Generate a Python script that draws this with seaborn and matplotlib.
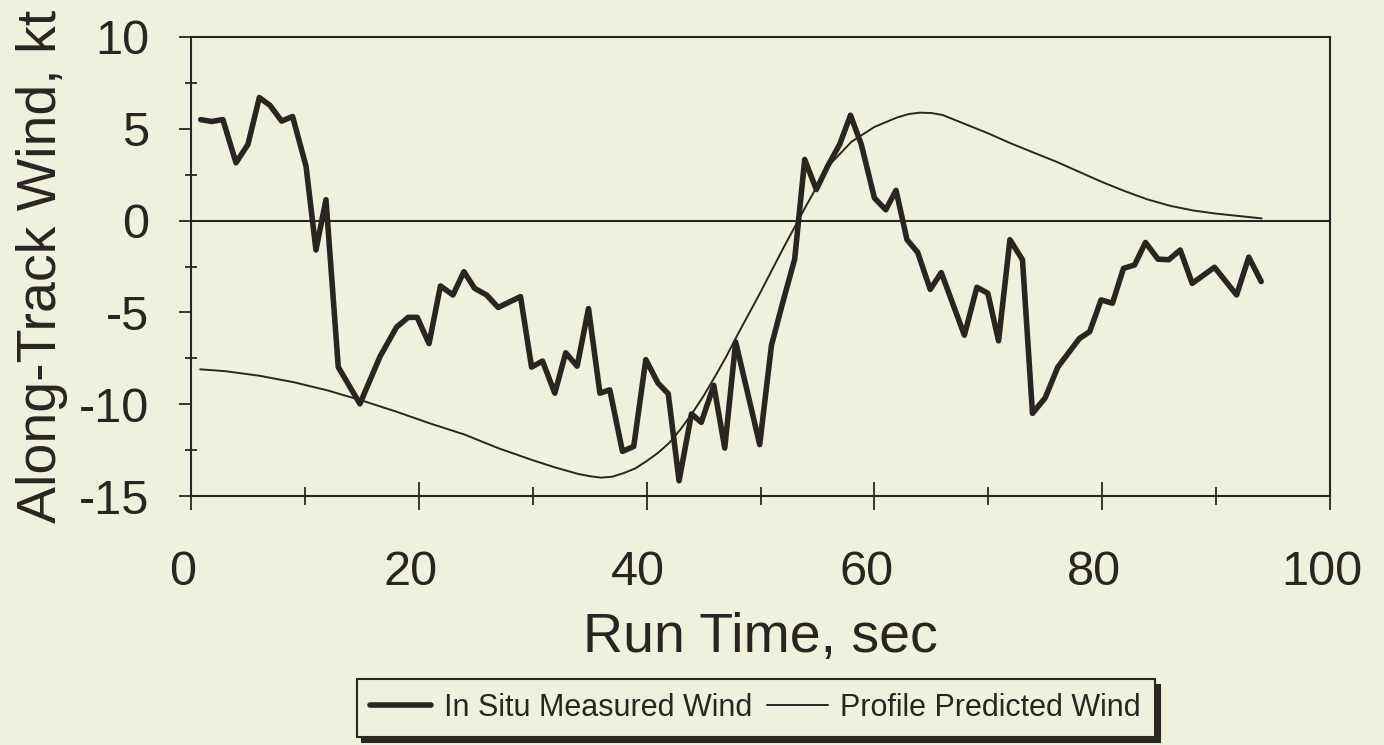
import numpy as np
import pandas as pd
import matplotlib
matplotlib.use("Agg")
import matplotlib.pyplot as plt
import matplotlib.transforms as mtransforms
from matplotlib.ticker import MultipleLocator
import seaborn as sns

# --- donnees ---
measured_t = [0.85, 1.8, 2.8, 3.95, 5.0, 6.0, 6.93, 7.96, 8.92, 10.1, 10.97, 11.85,
              12.93, 14.83, 16.6, 18.05, 19.07, 19.86, 20.9, 21.9, 23.0, 23.96, 24.9,
              25.95, 26.97, 28.93, 29.9, 30.86, 31.94, 32.9, 33.9, 34.9, 35.9, 36.77,
              37.88, 38.87, 39.93, 41.0, 41.9, 42.85, 43.94, 44.8, 45.9, 46.86, 47.82,
              49.93, 50.96, 51.98, 53.0, 53.88, 54.9, 55.9, 56.95, 57.9, 58.85, 60.0,
              61.0, 61.9, 62.86, 63.8, 64.9, 65.87, 67.9, 69.0, 69.96, 70.9, 71.9,
              73.0, 73.88, 75.0, 76.1, 78.0, 78.9, 79.9, 80.9, 81.87, 82.84, 83.8,
              84.9, 85.85, 86.85, 87.9, 89.86, 91.8, 92.87, 93.96]
measured_wind = [5.5, 5.4, 5.5, 3.15, 4.15, 6.7, 6.28, 5.42, 5.67, 2.96, -1.6, 1.14,
                 -7.98, -9.98, -7.4, -5.8, -5.27, -5.27, -6.7, -3.56, -4.05, -2.78, -3.69,
                 -4.05, -4.73, -4.14, -7.98, -7.65, -9.4, -7.2, -7.93, -4.79, -9.4, -9.22,
                 -12.57, -12.3, -7.57, -8.85, -9.43, -14.17, -10.53, -10.99, -8.97, -12.39, -6.61,
                 -12.2, -6.8, -4.4, -2.1, 3.33, 1.69, 2.97, 4.15, 5.74, 4.15, 1.23,
                 0.59, 1.65, -1.04, -1.73, -3.75, -2.83, -6.24, -3.63, -3.96, -6.55, -1.04,
                 -2.13, -10.5, -9.65, -7.98, -6.42, -6.05, -4.32, -4.5, -2.6, -2.42, -1.19,
                 -2.1, -2.13, -1.6, -3.42, -2.54, -4.05, -1.99, -3.32]

predicted_t = [0.8, 3, 6, 9, 12, 15, 18, 21, 24, 27, 30, 32, 34, 35, 36, 37, 38, 39,
               40, 41, 42, 43, 44, 45, 46, 47, 48, 50, 52, 54, 56, 58, 60, 62, 63,
               64, 65, 66, 68, 70, 72, 74, 76, 78, 80, 82, 84, 86, 88, 90, 92, 94]
predicted_wind = [-8.1, -8.2, -8.45, -8.8, -9.25, -9.8, -10.4, -11.05, -11.65, -12.4,
                  -13.05, -13.45, -13.8, -13.92, -14.0, -13.95, -13.75, -13.5, -13.1,
                  -12.65, -12.1, -11.35, -10.5, -9.55, -8.5, -7.4, -6.2, -3.9,
                  -1.5, 0.8, 3.0, 4.3, 5.1, 5.62, 5.8, 5.88, 5.86, 5.75, 5.25, 4.75,
                  4.2, 3.7, 3.2, 2.65, 2.1, 1.6, 1.15, 0.8, 0.55, 0.38, 0.25, 0.12]

df_meas = pd.DataFrame({"Run Time": measured_t, "Wind": measured_wind})
df_pred = pd.DataFrame({"Run Time": predicted_t, "Wind": predicted_wind})

BG = "#eef2dd"
INK = "#2a2521"

sns.set_style("ticks")
plt.rcParams["font.family"] = ["Liberation Sans", "DejaVu Sans"]
plt.rcParams["axes.unicode_minus"] = False

fig = plt.figure(figsize=(13.84, 7.45), dpi=100, facecolor=BG)
ax = fig.add_axes([191 / 1384, 1 - 496 / 745, (1330 - 191) / 1384, (496 - 37) / 745])
ax.set_facecolor(BG)

sns.lineplot(data=df_meas, x="Run Time", y="Wind", ax=ax, color=INK, linewidth=4.0,
             label="In Situ Measured Wind", sort=False)
sns.lineplot(data=df_pred, x="Run Time", y="Wind", ax=ax, color=INK, linewidth=1.4,
             label="Profile Predicted Wind", sort=False)
ax.axhline(0, color=INK, linewidth=1.5, zorder=1)

ax.set_xlim(0, 100)
ax.set_ylim(-15, 10)
ax.xaxis.set_major_locator(MultipleLocator(20))
ax.xaxis.set_minor_locator(MultipleLocator(10))
ax.yaxis.set_major_locator(MultipleLocator(5))
ax.yaxis.set_minor_locator(MultipleLocator(2.5))

for s in ax.spines.values():
    s.set_color(INK)
    s.set_linewidth(1.5)
    s.set_visible(True)

ax.tick_params(axis="y", which="major", direction="out", length=9, width=1.3,
               color=INK, labelsize=35, labelcolor=INK, pad=21)
ax.tick_params(axis="y", which="minor", direction="inout", length=9, width=1.3, color=INK)
ax.tick_params(axis="x", which="major", direction="inout", length=20, width=1.3,
               color=INK, labelsize=35, labelcolor=INK, pad=29)
ax.tick_params(axis="x", which="minor", direction="inout", length=13, width=1.3, color=INK)

# les chiffres de l'axe x sont un peu decales vers la gauche
offset = mtransforms.ScaledTranslation(-6 / 72, 0, fig.dpi_scale_trans)
for lab in ax.get_xticklabels():
    lab.set_transform(lab.get_transform() + offset)

ax.set_xlabel("Run Time, sec", fontsize=40, color=INK, labelpad=12)
ax.set_ylabel("Along-Track Wind, kt", fontsize=40, color=INK, labelpad=8)

ax.get_legend().remove()
handles, labels = ax.get_legend_handles_labels()
leg = fig.legend(handles, labels, loc="center", bbox_to_anchor=(0.546, 0.05), ncol=2,
                 fontsize=22, frameon=True, fancybox=False, handlelength=2.0,
                 handletextpad=0.4, columnspacing=0.5, borderpad=0.45,
                 shadow={"ox": 4, "oy": -4, "facecolor": INK, "edgecolor": INK, "alpha": 1})
leg.get_frame().set_facecolor(BG)
leg.get_frame().set_edgecolor(INK)
leg.get_frame().set_linewidth(1.5)
for t in leg.get_texts():
    t.set_color(INK)

fig.savefig("out.png", dpi=100, facecolor=BG)
